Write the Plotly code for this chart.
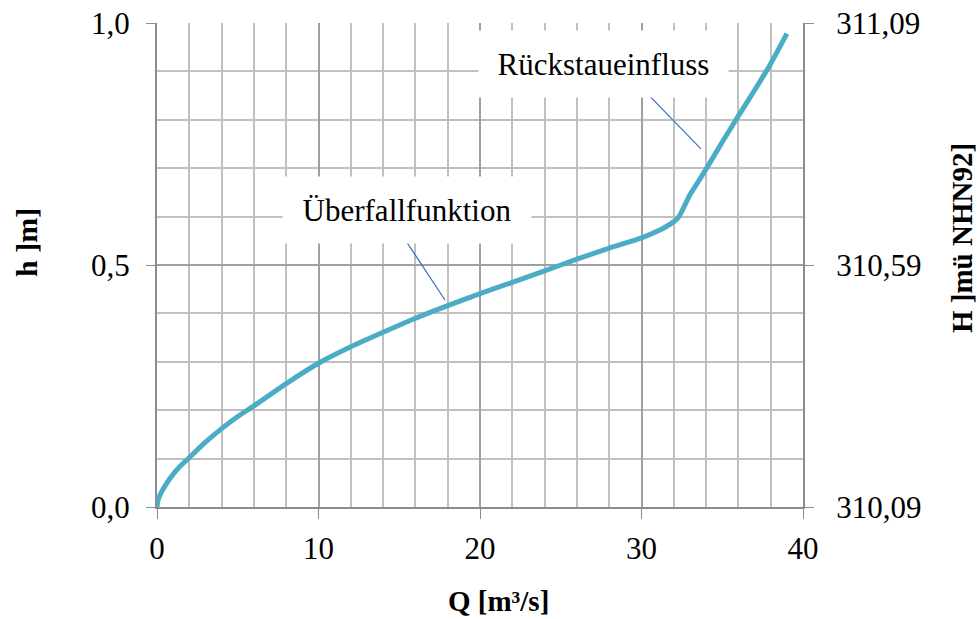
import plotly.graph_objects as go

# --- data ---
Q = [0, 0.05, 0.15, 0.4, 0.8, 1.4, 2, 3, 4, 5, 6, 8, 10, 12, 14, 16, 18, 20, 22, 24, 26,
     28, 30, 31, 31.8, 32.3, 33, 34, 35, 36, 37, 38, 39]
h = [0, 0.012, 0.022, 0.038, 0.059, 0.083, 0.102, 0.134, 0.162, 0.187, 0.209, 0.255,
     0.297, 0.331, 0.361, 0.39, 0.416, 0.441, 0.464, 0.488, 0.512, 0.535, 0.556,
     0.570, 0.585, 0.599, 0.645, 0.698, 0.754, 0.808, 0.861, 0.916, 0.978]

x_ticks = [0, 10, 20, 30, 40]
y_ticks = [0.0, 0.5, 1.0]
y_tick_text = ["0,0", "0,5", "1,0"]
y2_ticks = [310.09, 310.59, 311.09]
y2_tick_text = ["310,09", "310,59", "311,09"]

labels = ["Überfallfunktion", "Rückstaueinfluss"]
label_pos = [(15.48, 0.614), (27.65, 0.9157)]
leader_lines = [((15.46, 0.5475), (17.83, 0.4277)), ((30.48, 0.850), (33.68, 0.740))]

FONT = "Liberation Serif, Times New Roman, serif"
MAJOR = "#a0a0a0"
MINOR = "#c0c0c0"
AXIS = "#8c8c8c"

L, R, T, B = 157, 803, 23, 507
PW, PH = R - L, B - T

fig = go.Figure()
fig.add_trace(go.Scatter(x=Q, y=h, mode="lines",
                         line=dict(color="#4BACC6", width=5, shape="spline", smoothing=0.6),
                         showlegend=False, hoverinfo="skip"))
# invisible trace for the right axis
fig.add_trace(go.Scatter(x=[None], y=[None], yaxis="y2", showlegend=False))

for (x0, y0), (x1, y1) in leader_lines:
    fig.add_shape(type="line", x0=x0, y0=y0, x1=x1, y1=y1, xref="x", yref="y",
                  line=dict(color="#4472C4", width=1.3), layer="above")

for txt, (lx, ly), w in zip(labels, label_pos, [246, 247]):
    fig.add_annotation(x=lx, y=ly, xref="x", yref="y", text=txt, showarrow=False,
                       bgcolor="white", width=w, height=64,
                       font=dict(family=FONT, size=31, color="black"))

fig.update_layout(
    width=980, height=619, autosize=False,
    margin=dict(l=L, r=980 - R, t=T, b=619 - B, pad=0, autoexpand=False),
    paper_bgcolor="white", plot_bgcolor="white",
    font=dict(family=FONT, size=31, color="black"),
    xaxis=dict(range=[0, 40], tickvals=x_ticks, ticks="outside", ticklen=10,
               tickcolor=AXIS, showline=True, linecolor=AXIS, linewidth=2,
               showgrid=True, gridcolor=MAJOR, gridwidth=1.5, zeroline=False,
               minor=dict(dtick=2, showgrid=True, gridcolor=MINOR, gridwidth=1.5, ticks=""),
               tickfont=dict(size=31), ticklabelstandoff=3, automargin=False),
    yaxis=dict(range=[0, 1.0], tickvals=y_ticks, ticktext=y_tick_text, ticks="outside",
               ticklen=9, tickcolor=AXIS, showline=True, linecolor=AXIS, linewidth=2,
               showgrid=True, gridcolor=MAJOR, gridwidth=1.5, zeroline=False,
               minor=dict(dtick=0.1, showgrid=True, gridcolor=MINOR, gridwidth=1.5, ticks=""),
               tickfont=dict(size=31), ticklabelstandoff=10, automargin=False),
    yaxis2=dict(range=[310.09, 311.09], overlaying="y", side="right",
                tickvals=y2_ticks, ticktext=y2_tick_text, ticks="outside", ticklen=9,
                tickcolor=AXIS, showline=True, linecolor=AXIS, linewidth=2,
                showgrid=False, zeroline=False, tickfont=dict(size=31),
                ticklabelstandoff=16, automargin=False),
)

# axis titles
fig.add_annotation(x=(498 - L) / PW, y=(B - 601) / PH, xref="paper", yref="paper",
                   xanchor="center", yanchor="middle", text="<b>Q [m³/s]</b>",
                   showarrow=False, font=dict(family=FONT, size=29, color="black"))
fig.add_annotation(x=(26 - L) / PW, y=(B - 243) / PH, xref="paper", yref="paper",
                   xanchor="center", yanchor="middle", text="<b>h ]m]</b>",
                   showarrow=False, textangle=-90,
                   font=dict(family=FONT, size=30, color="black"))
fig.add_annotation(x=(962 - L) / PW, y=(B - 238) / PH, xref="paper", yref="paper",
                   xanchor="center", yanchor="middle", text="<b>H ]mü NHN92]</b>",
                   showarrow=False, textangle=-90,
                   font=dict(family=FONT, size=29, color="black"))

fig.write_html("out.html", config={"displayModeBar": False},
               post_script="document.body.style.margin='0';document.body.style.overflow='hidden';")
